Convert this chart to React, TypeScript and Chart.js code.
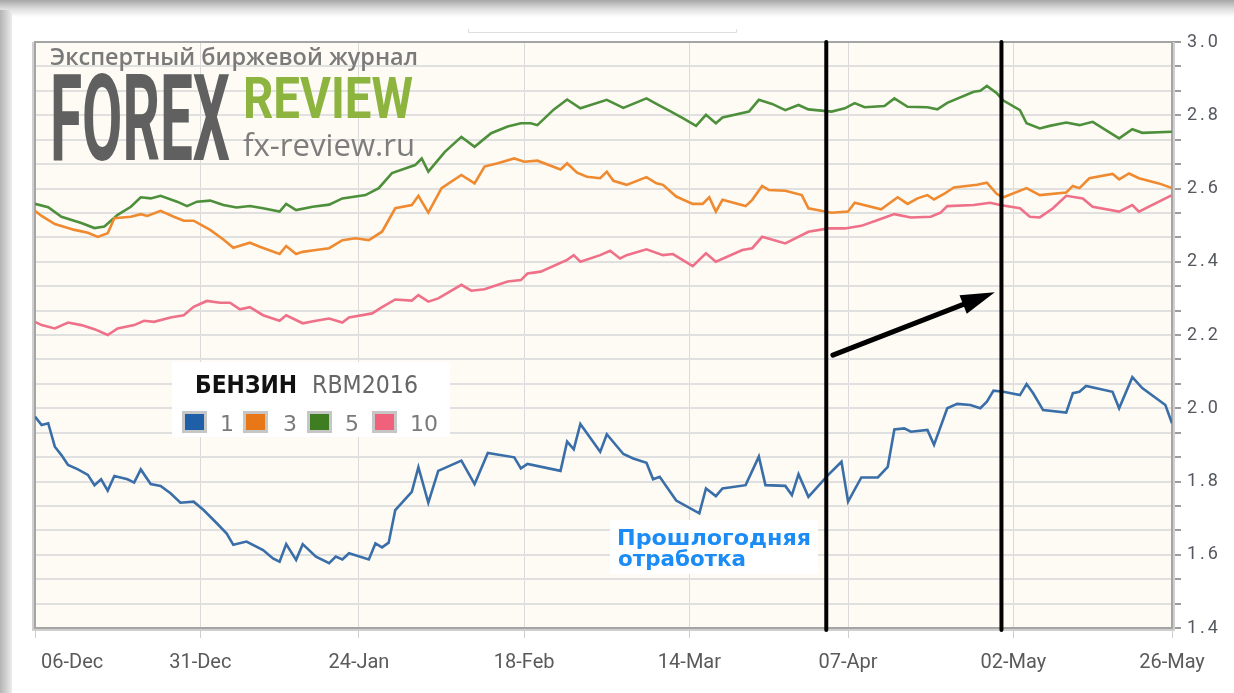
import React, { useEffect, useRef } from "react";
import { Chart, registerables } from "chart.js";
Chart.register(...registerables);

// ---- data (x = days since 06-Dec, y = price) ----
const xTickDays = [0, 25, 49, 74, 99, 123, 148, 172];
const xTickLabels = ["06-Dec", "31-Dec", "24-Jan", "18-Feb", "14-Mar", "07-Apr", "02-May", "26-May"];
const yMin = 1.4;
const yMax = 3.0;
const yMajorLabels = ["1.4", "1.6", "1.8", "2.0", "2.2", "2.4", "2.6", "2.8", "3.0"];

const seriesNames = ["1", "3", "5", "10"];
const lineColors = ["#3a6ea8", "#ef8a31", "#4d8f3b", "#ef7089"];
const swatchColors = ["#1f5fa8", "#e87817", "#3f7d23", "#f0627c"];

const series1: [number, number][] = [
  [0, 1.977], [1, 1.954], [2, 1.959], [3, 1.895], [4, 1.872], [5, 1.845], [6.5, 1.833], [8, 1.818], [9, 1.79], [10, 1.806],
  [11, 1.775], [12, 1.815], [14, 1.806], [15, 1.797], [16, 1.833], [17.5, 1.793], [19, 1.788], [20.5, 1.768], [22, 1.742], [24, 1.745],
  [25.5, 1.722], [27.5, 1.686], [29, 1.658], [30, 1.627], [32, 1.636], [34.5, 1.613], [36, 1.59], [37, 1.581], [38, 1.629], [39.5, 1.586],
  [40.5, 1.629], [42.5, 1.595], [44.5, 1.577], [45.5, 1.595], [46.5, 1.587], [47.5, 1.604], [50.5, 1.587], [51.5, 1.631], [52.5, 1.62], [53.5, 1.633],
  [54.5, 1.722], [57, 1.772], [58, 1.839], [59.5, 1.742], [61, 1.829], [64.5, 1.857], [66.5, 1.793], [68.5, 1.878], [72.5, 1.866], [73.5, 1.836],
  [74.5, 1.848], [79.5, 1.829], [80.5, 1.909], [81.5, 1.888], [82.5, 1.957], [85.5, 1.881], [86.5, 1.929], [89, 1.875], [90.5, 1.863], [92.5, 1.851],
  [93.5, 1.806], [94.5, 1.813], [97, 1.748], [100.5, 1.713], [101.5, 1.781], [103, 1.76], [104, 1.781], [107.5, 1.79], [109.5, 1.868], [110.5, 1.79],
  [113.5, 1.788], [114.5, 1.763], [115.5, 1.82], [117, 1.758], [120, 1.818], [122, 1.854], [123, 1.745], [125, 1.811], [127.5, 1.811], [129, 1.84],
  [130, 1.942], [131.5, 1.945], [132.5, 1.936], [135, 1.941], [136, 1.9], [138, 2.0], [139.5, 2.012], [141.5, 2.009], [143, 2.0], [144, 2.018],
  [145, 2.048], [146.5, 2.045], [149, 2.036], [150, 2.066], [151, 2.041], [152.5, 1.995], [156, 1.988], [157, 2.041], [158, 2.045], [159, 2.061],
  [163, 2.045], [164, 2.0], [166, 2.085], [167.5, 2.055], [171, 2.009], [172, 1.959],
];

const series3: [number, number][] = [
  [0, 2.539], [1, 2.525], [3, 2.503], [6, 2.487], [8, 2.479], [9.5, 2.468], [11, 2.478], [12, 2.519], [14.5, 2.523], [16, 2.53],
  [17, 2.525], [19, 2.539], [21, 2.523], [22.5, 2.512], [24, 2.512], [26.5, 2.487], [28.5, 2.461], [30, 2.438], [32.5, 2.452], [34, 2.441],
  [37, 2.421], [38, 2.443], [39.5, 2.421], [40.5, 2.427], [42.5, 2.432], [44.5, 2.437], [46.5, 2.459], [48.5, 2.464], [50.5, 2.459], [52.5, 2.482],
  [54.5, 2.546], [57, 2.555], [58, 2.58], [59.5, 2.534], [61.5, 2.601], [64.5, 2.637], [66.5, 2.614], [68, 2.66], [70, 2.669], [72.5, 2.682],
  [74, 2.673], [76, 2.676], [79.5, 2.652], [80.5, 2.669], [82, 2.643], [83.5, 2.632], [85.5, 2.628], [86.5, 2.646], [87.5, 2.621], [89.5, 2.61],
  [92.5, 2.631], [94, 2.614], [95, 2.61], [97, 2.578], [99.5, 2.558], [101, 2.558], [102, 2.576], [103, 2.537], [104, 2.569], [107.5, 2.552],
  [108.5, 2.569], [110, 2.607], [111, 2.596], [113.5, 2.594], [116, 2.582], [117, 2.546], [119.5, 2.537], [120.5, 2.534], [123, 2.537], [124, 2.561],
  [128, 2.543], [130.5, 2.576], [132, 2.558], [133.5, 2.573], [135, 2.582], [136, 2.57], [137.5, 2.585], [139, 2.603], [142.5, 2.61], [144, 2.616],
  [145.5, 2.585], [146.5, 2.576], [150, 2.601], [152, 2.582], [156, 2.589], [157, 2.607], [158, 2.601], [159.5, 2.628], [163, 2.64], [164, 2.625],
  [165.5, 2.641], [167, 2.628], [170, 2.614], [172, 2.601],
];

const series5: [number, number][] = [
  [0, 2.558], [2, 2.549], [4, 2.523], [7, 2.506], [9, 2.492], [10.5, 2.496], [12.5, 2.528], [14.5, 2.55], [16, 2.576], [17.5, 2.573],
  [19, 2.58], [21.5, 2.564], [23, 2.552], [24.5, 2.564], [26.5, 2.567], [28.5, 2.555], [30.5, 2.548], [32.5, 2.552], [34.5, 2.546], [37, 2.537],
  [38, 2.558], [39.5, 2.541], [42, 2.55], [44.5, 2.556], [46.5, 2.573], [50, 2.582], [52, 2.601], [54, 2.642], [57.5, 2.664], [58.5, 2.682],
  [59.5, 2.646], [62, 2.7], [64.5, 2.741], [66.5, 2.714], [69, 2.751], [71.5, 2.769], [73.5, 2.778], [75, 2.778], [76, 2.773], [78.5, 2.816],
  [80.5, 2.843], [82.5, 2.819], [86.5, 2.842], [89, 2.82], [92.5, 2.846], [94, 2.831], [96, 2.812], [98, 2.792], [100, 2.771], [101.5, 2.801],
  [103, 2.778], [104, 2.794], [108, 2.81], [109.5, 2.842], [111.5, 2.831], [113.5, 2.814], [115.5, 2.828], [117, 2.816], [120.5, 2.81], [122.5, 2.819],
  [124, 2.833], [125.5, 2.822], [128.5, 2.825], [130, 2.846], [132, 2.823], [135, 2.822], [136.5, 2.816], [138, 2.834], [142, 2.864], [143, 2.867],
  [144, 2.88], [145.5, 2.86], [146.5, 2.84], [149, 2.814], [150, 2.778], [152, 2.764], [153.5, 2.771], [156, 2.78], [158, 2.773], [160, 2.782],
  [164, 2.737], [166, 2.762], [167.5, 2.752], [172, 2.755],
];

const series10: [number, number][] = [
  [0, 2.236], [1, 2.227], [3, 2.218], [5, 2.234], [7, 2.227], [9, 2.216], [11, 2.2], [12.5, 2.218], [15, 2.227], [16.5, 2.239],
  [18, 2.236], [20.5, 2.248], [22.5, 2.254], [24, 2.277], [26, 2.293], [28, 2.288], [29.5, 2.288], [31, 2.27], [32.5, 2.276], [34.5, 2.254],
  [37, 2.239], [38, 2.254], [40.5, 2.232], [42.5, 2.239], [44.5, 2.245], [46.5, 2.234], [47.5, 2.248], [51, 2.259], [52.5, 2.276], [54.5, 2.297],
  [57, 2.294], [58, 2.309], [59.5, 2.291], [61, 2.3], [64.5, 2.337], [66, 2.321], [68, 2.325], [71.5, 2.346], [73.5, 2.35], [74.5, 2.368],
  [76.5, 2.373], [80.5, 2.405], [81.5, 2.418], [82.5, 2.4], [85.5, 2.418], [87, 2.43], [88.5, 2.409], [89.5, 2.418], [92.5, 2.434], [95, 2.418],
  [96.5, 2.421], [99.5, 2.388], [101.5, 2.423], [103, 2.4], [107, 2.432], [108.5, 2.437], [110, 2.468], [113.5, 2.45], [117, 2.482], [120, 2.491],
  [122.5, 2.491], [125, 2.498], [127.5, 2.514], [130, 2.53], [132.5, 2.521], [135.5, 2.523], [137, 2.534], [138, 2.552], [142, 2.555], [144.5, 2.561],
  [146, 2.555], [149, 2.546], [150.5, 2.523], [152, 2.521], [154, 2.546], [156, 2.58], [158.5, 2.573], [160, 2.55], [164, 2.537], [166, 2.555],
  [167, 2.537], [172, 2.582],
];

const allSeries = [series1, series3, series5, series10];

// hand-drawn annotations (in data units)
const markerDays = [119.7, 146.2];
const arrowFrom: [number, number] = [120.7, 2.145];
const arrowTo: [number, number] = [145.2, 2.317];

const legendTitle = "БЕНЗИН";
const legendSubtitle = "RBM2016";
const noteLines = ["Прошлогодняя", "отработка"];
const logoTagline = "Экспертный биржевой журнал";
const logoWord1 = "FOREX";
const logoWord2 = "REVIEW";
const logoSite = "fx-review.ru";

function fitText(ctx: CanvasRenderingContext2D, text: string, x: number, baseline: number, width: number, font: string, color: string) {
  ctx.save();
  ctx.font = font;
  ctx.fillStyle = color;
  ctx.textAlign = "left";
  ctx.textBaseline = "alphabetic";
  const w = ctx.measureText(text).width;
  ctx.translate(x, baseline);
  ctx.scale(width / w, 1);
  ctx.fillText(text, 0, 0);
  ctx.restore();
}

const decorPlugin = {
  id: "decor",
  beforeDraw(chart: any) {
    const { ctx, chartArea: a, width, height } = chart;
    ctx.save();
    ctx.fillStyle = "#ffffff";
    ctx.fillRect(0, 0, width, height);
    // top shadow
    let g = ctx.createLinearGradient(0, 0, 0, 17);
    g.addColorStop(0, "#a6a6a6");
    g.addColorStop(0.5, "#dcdcdc");
    g.addColorStop(1, "#ffffff");
    ctx.fillStyle = g;
    ctx.fillRect(0, 0, width, 17);
    // left shadow
    g = ctx.createLinearGradient(0, 0, 12, 0);
    g.addColorStop(0, "#b4b4b4");
    g.addColorStop(1, "#ececec");
    ctx.fillStyle = g;
    ctx.fillRect(0, 10, 12, height - 10);
    // faint bracket at top
    ctx.strokeStyle = "#dedede";
    ctx.lineWidth = 1;
    ctx.beginPath();
    ctx.moveTo(468.5, 29);
    ctx.lineTo(468.5, 32.5);
    ctx.lineTo(736.5, 32.5);
    ctx.lineTo(736.5, 29);
    ctx.stroke();
    // plot background
    ctx.fillStyle = "#fdfbf3";
    ctx.fillRect(a.left, a.top, a.right - a.left, a.bottom - a.top);
    ctx.restore();
  },
  beforeDatasetsDraw(chart: any) {
    const { ctx, chartArea: a } = chart;
    ctx.save();
    ctx.strokeStyle = "#cfcfcf";
    ctx.lineWidth = 2;
    ctx.beginPath();
    ctx.moveTo(a.left - 2, a.top);
    ctx.lineTo(a.left - 2, a.bottom + 2);
    ctx.lineTo(a.right + 2, a.bottom + 2);
    ctx.lineTo(a.right + 2, a.top);
    ctx.stroke();
    ctx.strokeStyle = "#a5a5a5";
    ctx.lineWidth = 2;
    ctx.strokeRect(a.left, a.top, a.right - a.left, a.bottom - a.top);
    ctx.restore();
  },
  afterDraw(chart: any) {
    const { ctx, chartArea: a } = chart;
    const xs = chart.scales.x;
    const ys = chart.scales.y;
    ctx.save();

    // x labels
    ctx.font = '20px Roboto';
    ctx.fillStyle = "#5a5a5a";
    ctx.textBaseline = "middle";
    xTickDays.forEach((d, i) => {
      const px = xs.getPixelForValue(d);
      if (i === 0) {
        ctx.textAlign = "left";
        ctx.fillText(xTickLabels[i], px + 6, 663);
      } else {
        ctx.textAlign = "center";
        ctx.fillText(xTickLabels[i], px, 663);
      }
    });

    // y labels
    ctx.font = '18px Roboto';
    (ctx as any).letterSpacing = "3px";
    ctx.textAlign = "left";
    ctx.fillStyle = "#55585e";
    yMajorLabels.forEach((lab) => {
      const py = ys.getPixelForValue(parseFloat(lab));
      ctx.fillText(lab, a.right + 15, py);
    });
    (ctx as any).letterSpacing = "0px";

    // logo
    fitText(ctx, logoTagline, 50, 65, 368, '600 24px "Open Sans"', "#7a7a7a");
    fitText(ctx, logoWord1, 50, 160, 180, 'bold 120px Roboto', "#606060");
    fitText(ctx, logoWord2, 243, 118, 170, 'bold 58px Roboto', "#8cb43e");
    fitText(ctx, logoSite, 243, 156, 172, '31px "Open Sans"', "#7d7d7d");

    // legend box
    ctx.fillStyle = "rgba(255,255,255,0.96)";
    ctx.fillRect(172, 362, 278, 75);
    fitText(ctx, legendTitle, 195, 393, 102, 'bold 24px "DejaVu Sans"', "#111111");
    fitText(ctx, legendSubtitle, 312, 393, 106, '24px "DejaVu Sans"', "#666666");
    const swX = [182, 243, 307, 372];
    const labX = [220, 283, 345, 410];
    seriesNames.forEach((name, i) => {
      ctx.fillStyle = "#c6c6c6";
      ctx.fillRect(swX[i], 411, 25, 22);
      ctx.fillStyle = swatchColors[i];
      ctx.fillRect(swX[i] + 3, 414, 19, 16);
      ctx.font = '22px "DejaVu Sans"';
      ctx.fillStyle = "#7a7a7a";
      ctx.textAlign = "left";
      ctx.textBaseline = "alphabetic";
      ctx.fillText(name, labX[i], 431);
    });

    // note
    ctx.fillStyle = "#ffffff";
    ctx.fillRect(610, 520, 208, 54);
    fitText(ctx, noteLines[0], 617, 545, 194, 'bold 21px "DejaVu Sans"', "#1b8cf5");
    fitText(ctx, noteLines[1], 618, 566, 128, 'bold 21px "DejaVu Sans"', "#1b8cf5");

    // hand-drawn black lines
    ctx.strokeStyle = "#000000";
    ctx.lineCap = "round";
    ctx.lineWidth = 4;
    markerDays.forEach((d) => {
      const px = xs.getPixelForValue(d);
      ctx.beginPath();
      ctx.moveTo(px, a.top);
      ctx.lineTo(px, a.bottom + 2);
      ctx.stroke();
    });
    const x1 = xs.getPixelForValue(arrowFrom[0]);
    const y1 = ys.getPixelForValue(arrowFrom[1]);
    const x2 = xs.getPixelForValue(arrowTo[0]);
    const y2 = ys.getPixelForValue(arrowTo[1]);
    const len = Math.hypot(x2 - x1, y2 - y1);
    const dx = (x2 - x1) / len;
    const dy = (y2 - y1) / len;
    ctx.lineWidth = 5;
    ctx.beginPath();
    ctx.moveTo(x1, y1);
    ctx.lineTo(x2 - dx * 20, y2 - dy * 20);
    ctx.stroke();
    const bx = x2 - dx * 34;
    const by = y2 - dy * 34;
    ctx.fillStyle = "#000000";
    ctx.beginPath();
    ctx.moveTo(x2, y2);
    ctx.lineTo(bx - dy * 10, by + dx * 10);
    ctx.lineTo(bx + dy * 10, by - dx * 10);
    ctx.closePath();
    ctx.fill();

    ctx.restore();
  },
};

export default function App() {
  const canvasRef = useRef<HTMLCanvasElement | null>(null);

  useEffect(() => {
    document.body.style.margin = "0";
    const canvas = canvasRef.current;
    if (!canvas) return;
    const chart = new Chart(canvas, {
      type: "line",
      data: {
        datasets: allSeries.map((s, i) => ({
          label: seriesNames[i],
          data: s.map(([x, y]) => ({ x, y })),
          borderColor: lineColors[i],
          backgroundColor: lineColors[i],
          borderWidth: 2.6,
          pointRadius: 0,
          tension: 0,
          fill: false,
        })),
      },
      options: {
        responsive: false,
        animation: false,
        events: [],
        layout: { padding: { left: 35, top: 42, right: 0, bottom: 0 }, autoPadding: false },
        plugins: { legend: { display: false }, tooltip: { enabled: false } },
        scales: {
          x: {
            type: "linear",
            min: 0,
            max: 172,
            afterBuildTicks: (s: any) => {
              s.ticks = xTickDays.map((v) => ({ value: v }));
            },
            afterFit: (s: any) => {
              s.height = 65;
            },
            ticks: { display: false },
            grid: { color: "#dadada", tickColor: "#cdcdcd", tickLength: 10, drawTicks: true, lineWidth: 1 },
            border: { display: false },
          },
          y: {
            type: "linear",
            position: "right",
            min: yMin,
            max: yMax,
            afterBuildTicks: (s: any) => {
              const n = (yMajorLabels.length - 1) * 3;
              const t = [];
              for (let i = 0; i <= n; i++) t.push({ value: yMin + (i * (yMax - yMin)) / n });
              s.ticks = t;
            },
            afterFit: (s: any) => {
              s.width = 62;
            },
            ticks: { display: false },
            grid: { color: "#e0e0e0", tickColor: "#9c9c9c", tickLength: 9, tickWidth: 2, drawTicks: true, lineWidth: 2 },
            border: { display: false },
          },
        },
      },
      plugins: [decorPlugin],
    } as any);
    return () => chart.destroy();
  }, []);

  return (
    <div style={{ width: 1234, height: 693, position: "relative", background: "#fff" }}>
      <canvas ref={canvasRef} width={1234} height={693} style={{ display: "block" }} />
    </div>
  );
}
